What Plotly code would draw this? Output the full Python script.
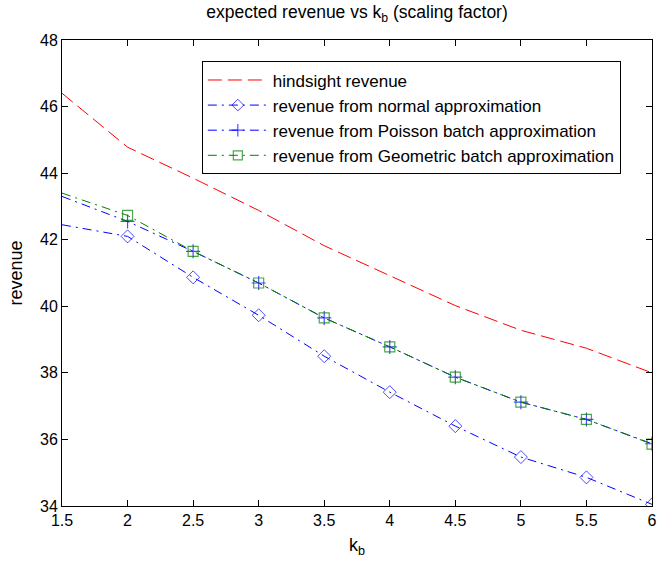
import plotly.graph_objects as go

kb = [1.5, 2, 2.5, 3, 3.5, 4, 4.5, 5, 5.5, 6]
hindsight = [46.4, 44.78, 43.85, 42.88, 41.82, 40.93, 40.02, 39.28, 38.74, 38.0]
normal = [42.45, 42.1, 40.87, 39.73, 38.5, 37.42, 36.4, 35.47, 34.86, 34.05]
poisson = [43.3, 42.55, 41.65, 40.7, 39.65, 38.78, 37.87, 37.12, 36.6, 35.87]
geometric = [43.4, 42.73, 41.65, 40.7, 39.65, 38.78, 37.87, 37.12, 36.6, 35.86]

names = ["hindsight revenue",
         "revenue from normal approximation",
         "revenue from Poisson batch approximation",
         "revenue from Geometric batch approximation"]

FONT = "Liberation Sans, Arial, sans-serif"
msize = [0] + [10] * (len(kb) - 1)
DASHDOT = "9px,5px,2px,5px"

fig = go.Figure()
fig.add_trace(go.Scatter(x=kb, y=hindsight, mode="lines", name=names[0],
                         line=dict(color="#ff0000", width=1, dash="14px,6px")))
fig.add_trace(go.Scatter(x=kb, y=normal, mode="lines+markers", name=names[1],
                         line=dict(color="#0000ff", width=1, dash=DASHDOT),
                         marker=dict(symbol="diamond-open", size=msize, color="#0000ff",
                                     line=dict(width=1, color="#0000ff"))))
fig.add_trace(go.Scatter(x=kb, y=poisson, mode="lines+markers", name=names[2],
                         line=dict(color="#0000ff", width=1, dash=DASHDOT),
                         marker=dict(symbol="cross-thin-open", size=msize, color="#0000ff",
                                     line=dict(width=1.2, color="#0000ff"))))
fig.add_trace(go.Scatter(x=kb, y=geometric, mode="lines+markers", name=names[3],
                         line=dict(color="#008000", width=1, dash=DASHDOT),
                         marker=dict(symbol="square-open", size=msize, color="#008000",
                                     line=dict(width=1.2, color="#008000"))))

fig.update_layout(
    width=662, height=565,
    margin=dict(l=62, r=5, t=40, b=59),
    paper_bgcolor="white", plot_bgcolor="white",
    font=dict(family=FONT, size=15, color="black"),
    title=dict(text="expected revenue vs k<sub>b</sub> (scaling factor)",
               x=0.5, xref="paper", xanchor="center", y=0.99, yanchor="top",
               font=dict(family=FONT, size=17.5, color="black")),
    showlegend=True,
    legend=dict(x=0.237, y=0.954, xanchor="left", yanchor="top",
                bgcolor="white", bordercolor="black", borderwidth=1,
                font=dict(family=FONT, size=17, color="black"),
                tracegroupgap=0, itemwidth=60),
)
fig.update_xaxes(range=[1.5, 6], tickvals=[1.5, 2, 2.5, 3, 3.5, 4, 4.5, 5, 5.5, 6],
                 ticktext=["1.5", "2", "2.5", "3", "3.5", "4", "4.5", "5", "5.5", "6"],
                 ticks="inside", ticklen=6, tickcolor="black", showline=True,
                 linecolor="black", linewidth=1, mirror="ticks", showgrid=False,
                 zeroline=False, title=dict(text="k<sub>b</sub>", standoff=10),
                 tickfont=dict(size=16))
fig.update_yaxes(range=[34, 48], tickvals=[34, 36, 38, 40, 42, 44, 46, 48],
                 ticks="inside", ticklen=6, tickcolor="black", showline=True,
                 linecolor="black", linewidth=1, mirror="ticks", showgrid=False,
                 zeroline=False, title=dict(text="revenue", standoff=12),
                 tickfont=dict(size=16))

fig.write_html("out.html")
